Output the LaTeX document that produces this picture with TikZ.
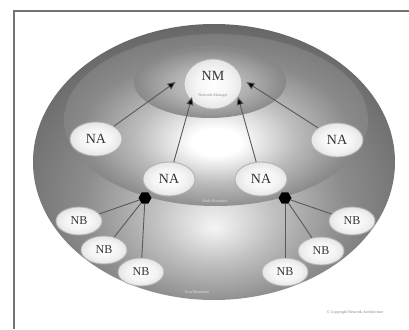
\documentclass[tikz,border=0pt]{standalone}
\usepackage{fontspec}
\setmainfont{Liberation Serif}
\usetikzlibrary{shapes.geometric,arrows.meta,calc}
\pgfdeclareradialshading{outerS}{\pgfpoint{0bp}{-12bp}}{color(0bp)=(black!4); color(8bp)=(black!24); color(18bp)=(black!45); color(28bp)=(black!57); color(37bp)=(black!70); color(50bp)=(black!70)}
\pgfdeclareradialshading{midS}{\pgfpoint{0bp}{-7bp}}{color(0bp)=(white); color(4bp)=(white); color(13bp)=(black!26); color(22bp)=(black!46); color(32bp)=(black!55); color(50bp)=(black!55)}
\pgfdeclareradialshading{innerS}{\pgfpoint{0bp}{-3bp}}{color(0bp)=(black!20); color(12bp)=(black!30); color(25bp)=(black!47); color(50bp)=(black!47)}
\pgfdeclareradialshading{nodeS}{\pgfpoint{0bp}{0bp}}{color(0bp)=(white); color(15bp)=(black!4); color(25bp)=(black!10); color(50bp)=(black!10)}
\tikzset{
  pic/.style={x=1pt,y=-1pt},
  nodebox/.style={ellipse,shading=nodeS,draw=black!30,line width=0.9pt,inner sep=0pt,
    font=\fontsize{14}{14}\selectfont,text=black!80},
  nabox/.style={nodebox,minimum width=52pt,minimum height=34pt},
  nbbox/.style={nodebox,minimum width=46pt,minimum height=28pt,font=\fontsize{12}{12}\selectfont},
  hub/.style={regular polygon,regular polygon sides=6,fill=black,inner sep=0pt,minimum size=13pt},
  arr/.style={draw=black!65,line width=0.9pt,-{Triangle[length=8pt,width=7pt,fill=black]}},
  link/.style={draw=black!65,line width=0.9pt},
  tiny/.style={font=\fontsize{4}{4}\selectfont,text=black!45},
  frame/.style={draw=black!55,line width=1.3pt}
}
\begin{document}
\begin{tikzpicture}[pic]
\useasboundingbox (0,0) rectangle (409,329);
\fill[white] (0,0) rectangle (409,329);
\draw[frame] (14,329) -- (14,11) -- (409,11);
% zones
\shade[shading=outerS] (214,162) ellipse [x radius=181, y radius=138];
\shade[shading=midS] (216,120) ellipse [x radius=152, y radius=86];
\shade[shading=innerS] (210,82) ellipse [x radius=76, y radius=36];
% nodes
\node[nodebox,minimum width=58pt,minimum height=50pt] (nm) at (213,84) {};
\node[font=\fontsize{14}{14}\selectfont,text=black!80] (nmt) at (213,76) {NM};
\node[tiny] (nml) at (213,96) {Network Manager};
\node[nabox] (naL) at (96,139) {NA};
\node[nabox] (naR) at (337,140) {NA};
\node[nabox] (naCL) at (169,179) {NA};
\node[nabox] (naCR) at (261,179) {NA};
\node[hub] (hL) at (145,198) {};
\node[hub] (hR) at (285,198) {};
\node[nbbox] (nbL1) at (79,221) {NB};
\node[nbbox] (nbL2) at (104,250) {NB};
\node[nbbox] (nbL3) at (141,272) {NB};
\node[nbbox] (nbR1) at (352,221) {NB};
\node[nbbox] (nbR2) at (321,251) {NB};
\node[nbbox] (nbR3) at (285,272) {NB};
% labels
\node[tiny,text=black!12] (lb1) at (215,202) {Node Boundary};
\node[tiny,text=black!10] (lb2) at (197,293) {Total Boundary};
\node[tiny,text=black!50] (lb3) at (355,313) {\copyright\ Copyright Network Architecture};
% arrows
\draw[arr] (naL) -- ([shift={(-8,-2)}]nm.west);
\draw[arr] (naCL) -- ([shift={(-21,13)}]nm.center);
\draw[arr] (naCR) -- ([shift={(25,13)}]nm.center);
\draw[arr] (naR) -- ([shift={(4,-2)}]nm.east);
% hub links
\draw[link] (hL) -- (nbL1);
\draw[link] (hL) -- (nbL2);
\draw[link] (hL) -- (nbL3);
\draw[link] (hR) -- (nbR1);
\draw[link] (hR) -- (nbR2);
\draw[link] (hR) -- (nbR3);
\end{tikzpicture}
\end{document}
